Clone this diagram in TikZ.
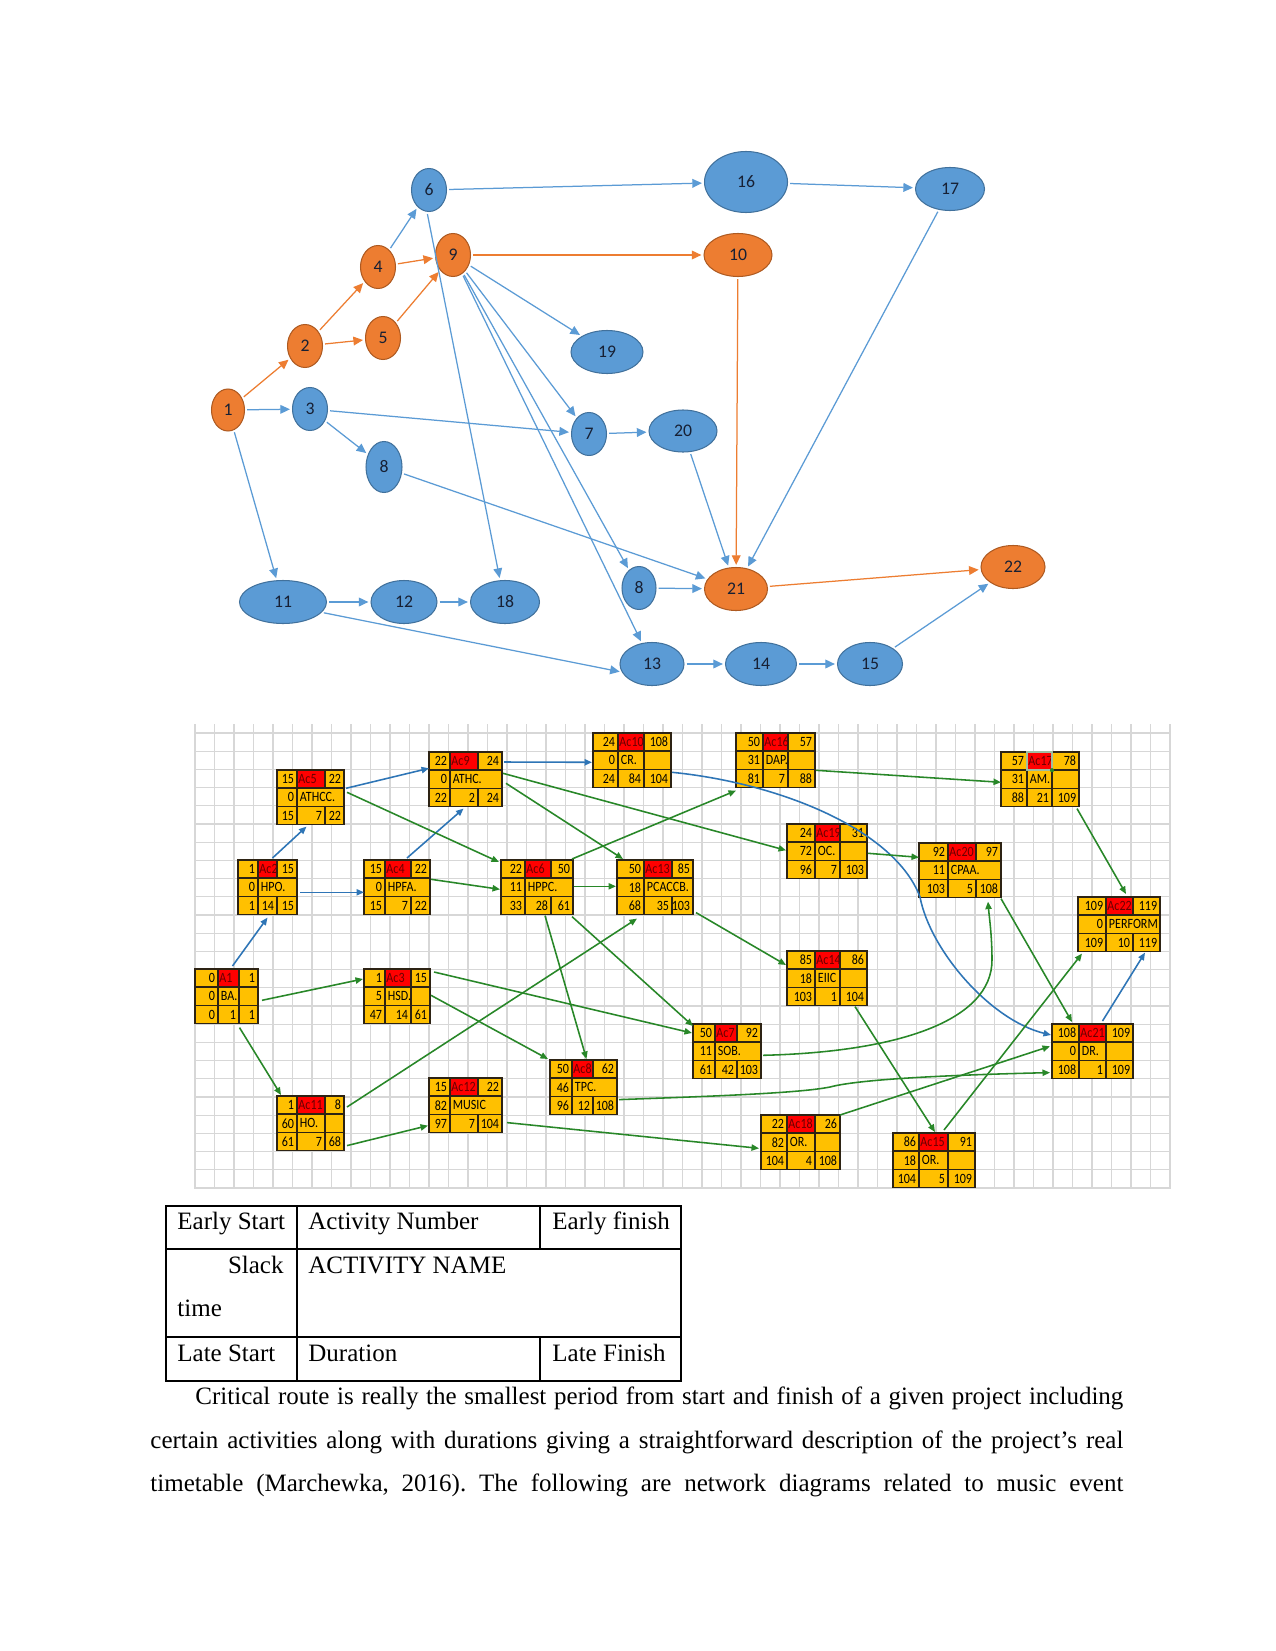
\documentclass[tikz,border=0pt]{standalone}
\usepackage{fontspec}
\setmainfont{Liberation Serif}
\newfontfamily\nodefont{Carlito}
\newfontfamily\cellfont[FakeStretch=0.85]{Carlito}
\usetikzlibrary{calc}
\usetikzlibrary{arrows.meta}
\usetikzlibrary{shapes.geometric}
\frenchspacing

% --- Színek ---
\definecolor{offblue}{RGB}{91,155,213}
\definecolor{offblueline}{RGB}{65,113,156}
\definecolor{offorange}{RGB}{237,125,49}
\definecolor{offorangeline}{RGB}{174,90,33}
\definecolor{nodetext}{RGB}{23,32,52}
\definecolor{boxgold}{RGB}{255,192,0}
\definecolor{boxred}{RGB}{255,0,0}
\definecolor{idtext}{RGB}{105,0,0}
\definecolor{boxedge}{RGB}{45,35,20}
\definecolor{gridgray}{RGB}{215,215,215}
\definecolor{critblue}{RGB}{46,117,182}
\definecolor{linkgreen}{RGB}{40,135,40}
\definecolor{selgray}{RGB}{160,190,160}

% --- Tevékenység doboz: név(x,y)[oszlopszélességek] ---
\def\boxat#1(#2,#3)[#4,#5,#6]{%
  \def\boxname{#1}\def\boxx{#2}\def\boxy{#3}%
  \def\cwa{#4}\def\cwb{#5}\def\cwc{#6}}

% --- Cellák: ES, ID, EF / slack, név, osztás / LS, időtartam, LF ---
\newcommand{\boxrows}[9]{%
  \begin{scope}[shift={(\boxx,\boxy)}]
    \fill[boxgold] (0,0) rectangle (\cwa+\cwb+\cwc,3*\rowh);
    \fill[boxred] (\cwa,0) rectangle (\cwa+\cwb,\rowh);
    \draw[cellrule] (0,0) rectangle (\cwa+\cwb+\cwc,3*\rowh);
    \draw[cellrule] (0,\rowh) -- (\cwa+\cwb+\cwc,\rowh)
                    (0,2*\rowh) -- (\cwa+\cwb+\cwc,2*\rowh)
                    (\cwa,0) -- (\cwa,3*\rowh)
                    (\cwa+\cwb,0) -- (\cwa+\cwb,\rowh)
                    (\cwa+\cwb,2*\rowh) -- (\cwa+\cwb,3*\rowh);
    \ifx\relax#6\relax\else
      \draw[cellrule] (\cwa+\cwb,\rowh) -- (\cwa+\cwb,2*\rowh);
    \fi
    \node[cellnum] (\boxname-es) at (\cwa,0.5*\rowh) {#1};
    \node[cellid]  (\boxname-id) at (\cwa,0.5*\rowh) {#2};
    \node[cellnum] (\boxname-ef) at (\cwa+\cwb+\cwc,0.5*\rowh) {#3};
    \node[cellnum] (\boxname-sl) at (\cwa,1.5*\rowh) {#4};
    \node[celltxt] (\boxname-nm) at (\cwa,1.5*\rowh) {#5};
    \node[cellnum] (\boxname-ls) at (\cwa,2.5*\rowh) {#7};
    \node[cellnum] (\boxname-du) at (\cwa+\cwb,2.5*\rowh) {#8};
    \node[cellnum] (\boxname-lf) at (\cwa+\cwb+\cwc,2.5*\rowh) {#9};
    \node[boxframe, minimum width={(\cwa+\cwb+\cwc)*0.48pt},
          minimum height={3*\rowh*0.48pt}] (\boxname) at (0,0) {};
  \end{scope}}

\begin{document}
\begin{tikzpicture}[
    x=0.48pt, y=-0.48pt,
    % --- Saját stílusok ---
    evt/.style 2 args = {ellipse, inner sep=0pt, minimum width=#1*0.48pt,
        minimum height=#2*0.48pt, line width=0.5pt,
        font=\nodefont\fontsize{8.5}{10}\selectfont, text=nodetext},
    bev/.style 2 args = {evt={#1}{#2}, fill=offblue, draw=offblueline},   % kék esemény
    oev/.style 2 args = {evt={#1}{#2}, fill=offorange, draw=offorangeline}, % narancs esemény
    barr/.style = {draw=offblue, line width=0.6pt,
        -{Triangle[length=4.6pt,width=4.2pt]}, shorten >=1pt, shorten <=1pt},
    oarr/.style = {draw=offorange, line width=0.6pt,
        -{Triangle[length=4.6pt,width=4.2pt]}, shorten >=1pt, shorten <=1pt},
    crit/.style = {draw=critblue, line width=0.75pt, -{Triangle[length=3.6pt,width=3pt]}},
    link/.style = {draw=linkgreen, line width=0.75pt, -{Triangle[length=3.6pt,width=3pt]}},
    gridline/.style = {draw=gridgray, line width=0.5pt},
    cellrule/.style = {draw=boxedge, line width=0.7pt},
    cellnum/.style = {font=\cellfont\fontsize{6.8}{8}\selectfont, text=black,
        inner sep=1.2pt, anchor=east},
    cellid/.style = {cellnum, anchor=west, text=idtext, inner sep=0.5pt},
    celltxt/.style = {cellnum, anchor=west},
    boxframe/.style = {inner sep=0pt, outer sep=0pt, anchor=north west},
    tabrule/.style = {draw=black, line width=0.6pt},
    tabtext/.style = {font=\fontsize{12}{14}\selectfont, inner sep=0pt, anchor=base west}
    ]

    % --- Paraméterek ---
    \def\rowh{18.2}  % sormagasság

    \fill[white] (0,0) rectangle (1275,1651);
    \useasboundingbox (0,0) rectangle (1275,1651);

    % --- Hálódiagram: események ---
    \node[oev={33}{42}] (n1)  at (228,410) {1};
    \node[oev={35}{43}] (n2)  at (305,346) {2};
    \node[bev={35}{43}] (n3)  at (310,409) {3};
    \node[oev={35}{43}] (n4)  at (378,267) {4};
    \node[oev={35}{43}] (n5)  at (383,338) {5};
    \node[bev={35}{43}] (n6)  at (429,190) {6};
    \node[oev={35}{43}] (n9)  at (453,255) {9};
    \node[bev={36}{51}] (n8a) at (384,467) {8};
    \node[bev={72}{43}] (n19) at (607,352) {19};
    \node[bev={35}{43}] (n7)  at (589,434) {7};
    \node[bev={68}{42}] (n20) at (683,431) {20};
    \node[bev={83}{61}] (n16) at (746,182) {16};
    \node[bev={69}{43}] (n17) at (950,189) {17};
    \node[oev={68}{43}] (n10) at (738,255) {10};
    \node[bev={34}{43}] (n8b) at (639,588) {8};
    \node[oev={63}{43}] (n21) at (736,589) {21};
    \node[oev={64}{43}] (n22) at (1013,567) {22};
    \node[bev={87}{43}] (n11) at (283,602) {11};
    \node[bev={66}{43}] (n12) at (404,602) {12};
    \node[bev={69}{43}] (n18) at (505,602) {18};
    \node[bev={64}{43}] (n13) at (652,664) {13};
    \node[bev={71}{43}] (n14) at (761,664) {14};
    \node[bev={65}{43}] (n15) at (870,664) {15};

    % --- Hálódiagram: nyilak ---
    \foreach \a/\b in {n1/n2, n2/n4, n2/n5, n4/n9, n5/n9, n9/n10, n10/n21, n21/n22}
        \draw[oarr] (\a) -- (\b);
    \foreach \a/\b in {n1/n3, n1/n11, n3/n7, n3/n8a, n4/n6, n6/n16, n16/n17, n17/n21,
                       n9/n19, n9/n7, n9/n8b, n9/n13, n7/n20, n20/n21, n8a/n21,
                       n8b/n21, n11/n12, n12/n18, n13/n14, n14/n15, n15/n22}
        \draw[barr] (\a) -- (\b);
    \draw[barr] ($(n6.south)+(-2,0)$) -- ($(n18.north)+(-5,0)$);
    \draw[barr] (n11.-15) -- (n13.195);

    % --- Rács (táblázat háttér) ---
    \foreach \k in {0,...,25}
        \draw[gridline] (195,733+\k*18.2) -- (1170,733+\k*18.2);
    \foreach \k in {0,...,50}
        \draw[gridline] (195+\k*19.5,724) -- (195+\k*19.5,1189);

    % --- Tevékenység dobozok ---
    \boxat A1(195,969)[23,21,19]
    \boxrows{0}{A1}{1}{0}{BA.}{|}{0}{1}{1}
    \boxat Ac2(238,860)[20,19,20]
    \boxrows{1}{Ac2}{15}{0}{HPO.}{}{1}{14}{15}
    \boxat Ac5(277,770)[20,28,19]
    \boxrows{15}{Ac5}{22}{0}{ATHCC.}{}{15}{7}{22}
    \boxat Ac9(429,752)[21,28,24]
    \boxrows{22}{Ac9}{24}{0}{ATHC.}{}{22}{2}{24}
    \boxat Ac4(364,860)[21,26,19]
    \boxrows{15}{Ac4}{22}{0}{HPFA.}{}{15}{7}{22}
    \boxat Ac3(364,969)[21,26,19]
    \boxrows{1}{Ac3}{15}{5}{HSD.}{|}{47}{14}{61}
    \boxat Ac6(501,860)[24,26,22]
    \boxrows{22}{Ac6}{50}{11}{HPPC.}{}{33}{28}{61}
    \boxat Ac10(593,733)[25,26,27]
    \boxrows{24}{Ac10}{108}{0}{CR.}{|}{24}{84}{104}
    \boxat Ac16(736,733)[27,25,27]
    \boxrows{50}{Ac16}{57}{31}{DAP.}{|}{81}{7}{88}
    \boxat Ac13(617,860)[27,28,21]
    \boxrows{50}{Ac13}{85}{18}{PCACCB.}{}{68}{35}{103}
    \boxat Ac19(787,824)[28,25,27]
    \boxrows{24}{Ac19}{31}{72}{OC.}{|}{96}{7}{103}
    \boxat Ac14(787,951)[28,25,27]
    \boxrows{85}{Ac14}{86}{18}{EIIC}{|}{103}{1}{104}
    \boxat Ac17(1001,752)[26,25,27]
    \boxrows{57}{Ac17}{78}{31}{AM.}{|}{88}{21}{109}
    \boxat Ac20(919,843)[29,28,25]
    \boxrows{92}{Ac20}{97}{11}{CPAA.}{}{103}{5}{108}
    \boxat Ac22(1078,897)[28,27,27]
    \boxrows{109}{Ac22}{119}{0}{PERFORM}{}{109}{10}{119}
    \boxat Ac7(693,1024)[22,22,24]
    \boxrows{50}{Ac7}{92}{11}{SOB.}{}{61}{42}{103}
    \boxat Ac8(550,1060)[22,21,24]
    \boxrows{50}{Ac8}{62}{46}{TPC.}{}{96}{12}{108}
    \boxat Ac11(277,1096)[20,28,19]
    \boxrows{1}{Ac11}{8}{60}{HO.}{|}{61}{7}{68}
    \boxat Ac12(429,1078)[21,28,24]
    \boxrows{15}{Ac12}{22}{82}{MUSIC}{}{97}{7}{104}
    \boxat Ac18(761,1115)[26,28,25]
    \boxrows{22}{Ac18}{26}{82}{OR.}{|}{104}{4}{108}
    \boxat Ac21(1052,1024)[27,27,27]
    \boxrows{108}{Ac21}{109}{0}{DR.}{|}{108}{1}{109}
    \boxat Ac15(893,1133)[26,29,27]
    \boxrows{86}{Ac15}{91}{18}{OR.}{|}{104}{5}{109}

    % kijelölt cella
    \draw[selgray, line width=0.8pt] ($(Ac17.north west)+(26,0)$) rectangle ($(Ac17.north west)+(51,18.2)$);
    \fill[linkgreen] ($(Ac17.north west)+(51,18.2)$) circle (1pt);

    % --- Kritikus út (kék) ---
    \draw[crit] ($(A1.north)+(6,-3)$) -- ($(Ac2.south)+(0,3)$);
    \draw[crit] ($(Ac2.north)+(5,-2)$) -- ($(Ac5.south)+(-4,2)$);
    \draw[crit] ($(Ac5.east)+(2,-9)$) -- ($(Ac9.west)+(0,-11)$);
    \draw[crit] ($(Ac2.east)+(3,5)$) -- ($(Ac4.west)+(0,5)$);
    \draw[crit] ($(Ac4.north)+(10,-2)$) -- ($(Ac9.south)+(-2,2)$);
    \draw[crit] ($(Ac9.north east)+(2,10)$) -- ($(Ac10.west)+(-1,2)$);
    \draw[crit] ($(Ac10.east)+(1,12)$) .. controls (780,783) and (895,830) .. (920,897)
        .. controls (930,950) and (990,1020) .. ($(Ac21.north west)+(-1,11)$);
    \draw[crit] ($(Ac21.north)+(10,-3)$) -- ($(Ac22.south east)+(-15,1)$);

    % --- Többi kapcsolat (zöld) ---
    \draw[link] ($(A1.east)+(4,4)$) -- ($(Ac3.north west)+(-1,10)$);
    \draw[link] ($(A1.south)+(13,4)$) -- ($(Ac11.north west)+(4,-1)$);
    \draw[link] ($(Ac5.east)+(3,-5)$) -- ($(Ac6.north west)+(-2,2)$);
    \draw[link] ($(Ac4.east)+(1,-8)$) -- ($(Ac6.west)+(-1,2)$);
    \draw[link] ($(Ac9.east)+(1,-6)$) -- ($(Ac19.west)+(-1,-1)$);
    \draw[link] ($(Ac9.east)+(4,4)$) -- ($(Ac13.north west)+(6,-1)$);
    \draw[link] ($(Ac6.east)+(1,-1)$) -- ($(Ac13.west)+(-1,-1)$);
    \draw[link] ($(Ac6.north east)+(-1,-1)$) -- ($(Ac16.south west)+(0,3)$);
    \draw[link] ($(Ac6.south)+(8,1)$) -- ($(Ac8.north)+(3,-1)$);
    \draw[link] ($(Ac6.south east)+(-1,2)$) -- ($(Ac7.north west)+(0,2)$);
    \draw[link] ($(Ac3.north east)+(4,3)$) -- ($(Ac7.north west)+(-1,9)$);
    \draw[link] ($(Ac3.east)+(1,-1)$) -- ($(Ac8.north west)+(-2,-1)$);
    \draw[link] ($(Ac11.north east)+(3,11)$) -- ($(Ac13.south west)+(20,4)$);
    \draw[link] ($(Ac11.south east)+(3,-5)$) -- ($(Ac12.south west)+(-1,-7)$);
    \draw[link] ($(Ac12.south east)+(5,-10)$) -- ($(Ac18.west)+(-2,6)$);
    \draw[link] ($(Ac13.south east)+(3,-2)$) -- ($(Ac14.north west)+(-1,14)$);
    \draw[link] ($(Ac19.east)+(1,2)$) -- ($(Ac20.west)+(0,-13)$);
    \draw[link] ($(Ac16.east)+(1,10)$) -- ($(Ac17.west)+(0,3)$);
    \draw[link] ($(Ac17.south east)+(-2,2)$) -- ($(Ac22.north)+(7,-3)$);
    \draw[link] ($(Ac20.south east)+(0,1)$) -- ($(Ac21.north west)+(20,-2)$);
    \draw[link] ($(Ac7.east)+(2,4)$) .. controls (900,1052) and (992,1020) .. (992,960)
        .. controls (992,935) and (989,915) .. ($(Ac20.south east)+(-13,4)$);
    \draw[link] ($(Ac8.south east)+(2,-15)$) .. controls (720,1096) and (800,1093) .. (830,1087)
        .. controls (860,1079) and (950,1075) .. ($(Ac21.south west)+(-2,-6)$);
    \draw[link] ($(Ac14.south east)+(-12,1)$) -- ($(Ac15.north)+(1,-1)$);
    \draw[link] ($(Ac15.north)+(10,-3)$) -- ($(Ac22.south west)+(4,2)$);
    \draw[link] (Ac18.north east) -- ($(Ac21.west)+(-2,-5)$);

    % --- Jelmagyarázat táblázat ---
    \draw[tabrule] (166,1206) rectangle (681,1381);
    \draw[tabrule] (166,1249) -- (681,1249) (166,1337) -- (681,1337);
    \draw[tabrule] (297,1206) -- (297,1381);
    \draw[tabrule] (540,1206) -- (540,1249) (540,1337) -- (540,1381);
    \node[tabtext] (es) at (177,1229) {Early Start};
    \node[tabtext] (an) at (308,1229) {Activity Number};
    \node[tabtext] (ef) at (552,1229) {Early finish};
    \node[tabtext, anchor=base east] (sl) at (284,1273) {Slack};
    \node[tabtext] (ti) at (177,1316) {time};
    \node[tabtext] (nm) at (308,1273) {ACTIVITY NAME};
    \node[tabtext] (ls) at (177,1361) {Late Start};
    \node[tabtext] (du) at (308,1361) {Duration};
    \node[tabtext] (lf) at (552,1361) {Late Finish};

    % --- Bekezdés ---
    \node[tabtext] (p1) at (195,1404) {\makebox[445.4pt][s]{Critical route is really the smallest period from start and finish of a given project including}};
    \node[tabtext] (p2) at (150,1448) {\makebox[467pt][s]{certain activities along with durations giving a straightforward description of the project's real}};
    \node[tabtext] (p3) at (150,1491) {\makebox[467pt][s]{timetable (Marchewka, 2016). The following are network diagrams related to music event}};
\end{tikzpicture}
\end{document}
